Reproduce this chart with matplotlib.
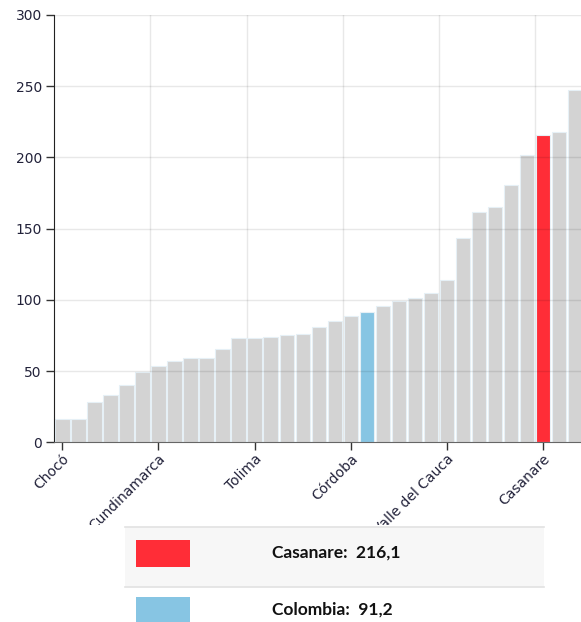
import numpy as np
import matplotlib
matplotlib.use("Agg")
import matplotlib.pyplot as plt
from matplotlib.patches import Rectangle
from matplotlib.lines import Line2D
from matplotlib.transforms import Bbox, TransformedBbox

# values, sorted ascending (right end is cut off)
values = [16.1, 16.1, 28.5, 33.4, 40.0, 49.5, 53.3, 57.0, 58.9, 58.9,
          65.4, 72.9, 72.9, 74.1, 75.0, 75.9, 80.6, 85.3, 89.0, 91.2,
          95.8, 99.3, 101.4, 104.5, 113.8, 143.4, 161.7, 165.2, 180.4, 201.5,
          216.1, 217.6, 247.1]
highlight_red = 30    # Casanare
highlight_blue = 19   # Colombia
tick_pos = [0, 6, 12, 18, 24, 30]
tick_labels = ["Chocó", "Cundinamarca", "Tolima", "Córdoba", "Valle del Cauca", "Casanare"]
legend_names = ["Casanare", "Colombia"]
legend_vals = ["216,1", "91,2"]

W, H = 581, 622
fig = plt.figure(figsize=(W / 100, H / 100), dpi=100)

left = 54.3
band = 16.03
x_right = (W - left) / band - 0.5
ax = fig.add_axes([left / W, 1 - 442.3 / H, (W - left) / W, (442.3 - 15) / H])

colors = ['#d3d3d3'] * len(values)
colors[highlight_red] = '#ff2d37'
colors[highlight_blue] = '#87c5e3'

x = np.arange(len(values))
ax.bar(x, values, width=0.9, color=colors, edgecolor='#e6f0f6', linewidth=0.8, zorder=2)

ax.set_xlim(-0.5, x_right)
ax.set_ylim(0, 300)
ax.set_yticks(np.arange(0, 301, 50))
ax.set_xticks(tick_pos)
ax.set_xticklabels(tick_labels, rotation=45, ha='right', rotation_mode='anchor')

# grid: horizontal at ticks, vertical at band edges
for yv in np.arange(50, 301, 50):
    ax.axhline(yv, color=(0, 0, 0, 0.09), lw=1, zorder=3)
for xv in np.array(tick_pos[1:]) - 0.5:
    ax.axvline(xv, color=(0, 0, 0, 0.09), lw=1, zorder=1)

for s in ['top', 'right']:
    ax.spines[s].set_visible(False)
ax.spines['left'].set_color('#222222')
ax.spines['bottom'].set_color('#666666')
ax.spines['left'].set_zorder(4)
ax.spines['bottom'].set_zorder(4)
ax.tick_params(axis='y', length=6, width=1, color='#333333', labelsize=10,
               labelcolor='#22223a', pad=3)
ax.tick_params(axis='x', length=6, width=1, color='#333333', labelsize=10,
               labelcolor='#22223a', pad=1)

# tick labels are cut off above the legend panel
clip = TransformedBbox(Bbox([[0, 1 - 525 / H], [1, 1]]), fig.transFigure)
for t in ax.get_xticklabels():
    t.set_clip_box(clip)
    t.set_clip_on(True)

# legend panel
def fy(p):
    return 1 - p / H

fig.patches.append(Rectangle((125 / W, fy(587)), (544 - 125) / W, 60 / H,
                             transform=fig.transFigure, facecolor='#f7f7f7',
                             edgecolor='none', zorder=0))
for yy in [527, 587]:
    fig.lines.append(Line2D([125 / W, 544 / W], [fy(yy), fy(yy)],
                            transform=fig.transFigure, color='#e2e2e2', lw=1.2))

swatch_cols = ['#ff2d37', '#87c5e3']
row_centers = [553, 610]
for name, val, col, yc in zip(legend_names, legend_vals, swatch_cols, row_centers):
    fig.patches.append(Rectangle((136 / W, fy(yc + 13.5)), 54 / W, 27 / H,
                                 transform=fig.transFigure, facecolor=col,
                                 edgecolor='none'))
    fig.text(272 / W, fy(yc), name + ":  " + val, fontsize=12.5, fontweight='bold',
             family=['Lato', 'DejaVu Sans'], color='#111111', va='center', ha='left')

fig.savefig("out.png", dpi=100)
